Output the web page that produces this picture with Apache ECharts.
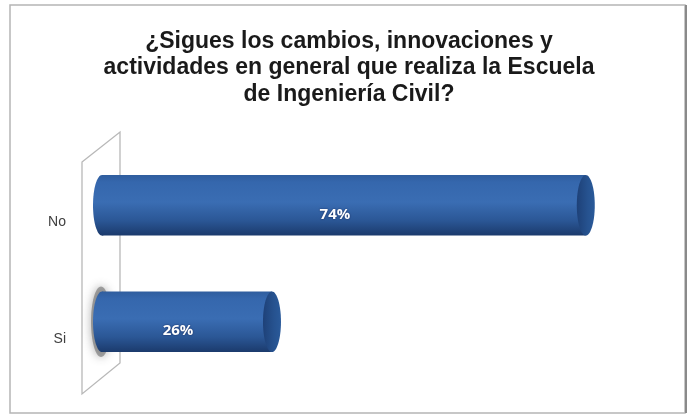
<!DOCTYPE html>
<html>
<head>
<meta charset="utf-8">
<script src="https://cdn.jsdelivr.net/npm/echarts@6/dist/echarts.min.js"></script>
<style>html,body{margin:0;padding:0;background:#fff;}#chart{width:692px;height:416px;}</style>
</head>
<body>
<div id="chart"></div>
<script>
var titleText = '¿Sigues los cambios, innovaciones y\nactividades en general que realiza la Escuela\nde Ingeniería Civil?';
var categories = ['Si', 'No'];
var percentValues = [26, 74];
var valueLabels = ['26%', '74%'];

var chart = echarts.init(document.getElementById('chart'));

var bodyGrad = function () {
  return new echarts.graphic.LinearGradient(0, 0, 0, 1, [
    { offset: 0, color: '#2f5d9e' },
    { offset: 0.12, color: '#3567ad' },
    { offset: 0.45, color: '#3a6db3' },
    { offset: 0.75, color: '#2b5796' },
    { offset: 1, color: '#1b3a6c' }
  ]);
};
var capGrad = function () {
  return new echarts.graphic.LinearGradient(0, 0, 1, 0, [
    { offset: 0, color: '#1e4178' },
    { offset: 0.6, color: '#26528f' },
    { offset: 1, color: '#2a5a9a' }
  ]);
};

var seriesData = categories.map(function (c, i) { return [percentValues[i], i, valueLabels[i]]; });

var option = {
  backgroundColor: '#ffffff',
  grid: { left: 102, right: 67, top: 147, bottom: 36, containLabel: false },
  xAxis: { type: 'value', min: 0, max: 80, show: false },
  yAxis: {
    type: 'category',
    data: categories,
    axisLine: { show: false },
    axisTick: { show: false },
    splitLine: { show: false },
    axisLabel: {
      color: '#404040', fontSize: 14, fontFamily: 'Liberation Sans, Arial, sans-serif', margin: 36,
      lineHeight: 34,
      formatter: function (v) { return '\n' + v; }
    }
  },
  graphic: [
    { type: 'rect', z: 0, shape: { x: 10, y: 5, width: 675, height: 408 }, style: { fill: 'none', stroke: '#b5b5b5', lineWidth: 1.5 } },
    { type: 'line', z: 0, shape: { x1: 686, y1: 5, x2: 686, y2: 413 }, style: { stroke: '#8a8a8a', lineWidth: 2 } },
    { type: 'polygon', z: 1, shape: { points: [[82, 162], [120, 132], [120, 363], [82, 394]] }, style: { fill: '#ffffff', stroke: '#b8b8b8', lineWidth: 1.3 } },
    { type: 'text', z: 2, x: 349, y: 28, style: {
        text: titleText, textAlign: 'center', textVerticalAlign: 'top',
        font: 'bold 23px "Liberation Sans", Arial, sans-serif', lineHeight: 26.5, fill: '#1a1a1a'
      } }
  ],
  series: [{
    type: 'custom',
    z: 5,
    data: seriesData,
    encode: { x: 0, y: 1 },
    renderItem: function (params, api) {
      var v = api.value(0), ci = api.value(1);
      var p0 = api.coord([0, ci]);
      var p1 = api.coord([v, ci]);
      var h = api.size([0, 1])[1] * 0.52;
      var y = p0[1], top = y - h / 2;
      var rx = 9;
      var hasShadow = params.dataIndex === 0;
      var children = [];
      if (hasShadow) {
        children.push({
          type: 'ellipse',
          shape: { cx: p0[0] - 1, cy: y, rx: rx + 1, ry: h / 2 + 5 },
          style: { fill: 'rgba(110,110,110,0.6)', shadowBlur: 10, shadowColor: 'rgba(60,60,60,0.7)' }
        });
      }
      children.push({
        type: 'ellipse',
        shape: { cx: p0[0], cy: y, rx: rx, ry: h / 2 },
        style: { fill: bodyGrad() }
      });
      children.push({
        type: 'rect',
        shape: { x: p0[0], y: top, width: p1[0] - p0[0], height: h },
        style: { fill: bodyGrad() }
      });
      children.push({
        type: 'ellipse',
        shape: { cx: p1[0], cy: y, rx: rx, ry: h / 2 },
        style: { fill: capGrad() }
      });
      children.push({
        type: 'text',
        style: {
          text: api.value(2),
          x: (p0[0] + p1[0]) / 2 - 9,
          y: y + 9,
          align: 'center',
          verticalAlign: 'middle',
          fill: '#ffffff',
          font: 'bold 15px "Open Sans", "Liberation Sans", sans-serif',
          textShadowColor: 'rgba(0,0,40,0.6)',
          textShadowBlur: 2
        }
      });
      return { type: 'group', children: children };
    }
  }]
};
chart.setOption(option);
</script>
</body>
</html>
